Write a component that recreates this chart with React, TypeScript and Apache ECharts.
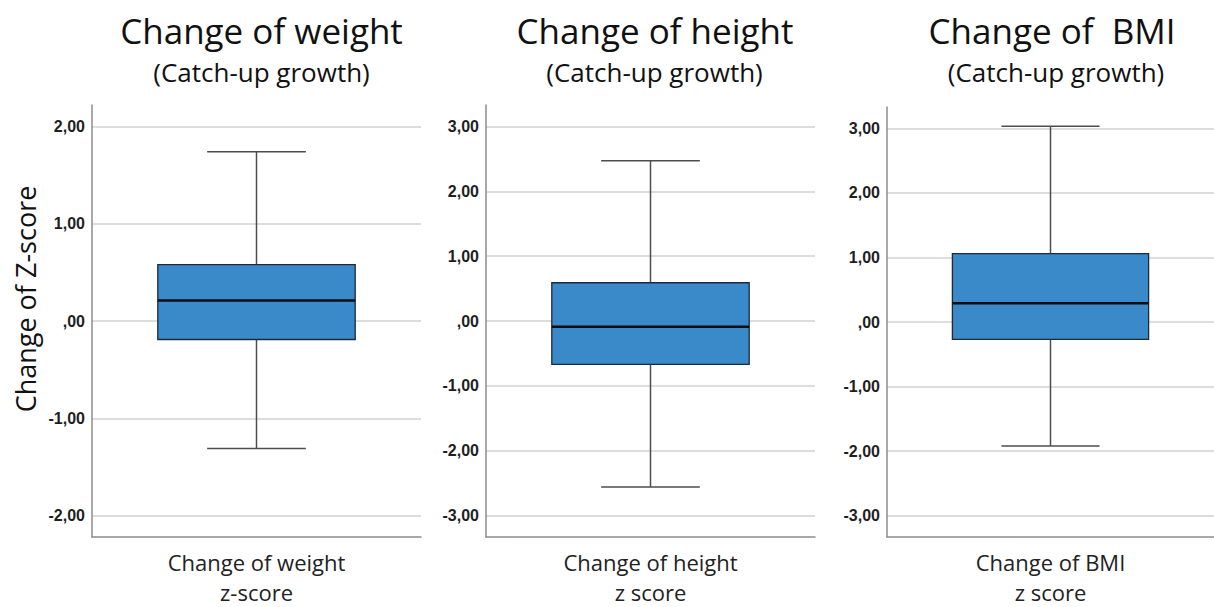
import React, { useEffect, useRef } from 'react';
import * as echarts from 'echarts';

// ---- Data ----
const panelTitles = ['Change of weight', 'Change of height', 'Change of  BMI'];
const panelSubtitle = '(Catch-up growth)';
const categories = ['Change of weight\nz-score', 'Change of height\nz score', 'Change of BMI\nz score'];
const yAxisTitle = 'Change of Z-score';
// [lower whisker, Q1, median, Q3, upper whisker]
const weightBox = [-1.31, -0.19, 0.21, 0.58, 1.74];
const heightBox = [-2.56, -0.67, -0.09, 0.59, 2.47];
const bmiBox = [-1.92, -0.27, 0.29, 1.06, 3.03];
const boxes = [weightBox, heightBox, bmiBox];
const yMins = [-2.22, -3.33, -3.33];
const yMaxs = [2.22, 3.33, 3.33];

// ---- Layout ----
const grids = [
  { left: 92, top: 105, width: 329, height: 437 },
  { left: 486, top: 105, width: 329, height: 437 },
  { left: 887, top: 107, width: 327, height: 438 },
];
const titleX = [261.5, 655, 1052];
const subX = [261.5, 654.5, 1056];

const SANS = '"Open Sans", "Noto Sans", sans-serif';
const ARIAL = '"Liberation Sans", Arial, sans-serif';

const fmt = (v: number) => {
  if (Math.abs(v - Math.round(v)) > 1e-6) return '';
  const r = Math.round(v);
  if (r === 0) return ',00';
  return r.toFixed(2).replace('.', ',');
};

const renderBox = (params: any, api: any) => {
  const x = api.value(0);
  const lo = api.coord([x, api.value(1)]);
  const q1 = api.coord([x, api.value(2)]);
  const med = api.coord([x, api.value(3)]);
  const q3 = api.coord([x, api.value(4)]);
  const hi = api.coord([x, api.value(5)]);
  const band = api.size([1, 0])[0];
  const bw = band * 0.6;
  const cw = bw / 2;
  const cx = lo[0];
  const wStyle = { stroke: '#4d4d4d', lineWidth: 1.5 };
  return {
    type: 'group',
    children: [
      { type: 'line', shape: { x1: cx, y1: hi[1], x2: cx, y2: q3[1] }, style: wStyle },
      { type: 'line', shape: { x1: cx, y1: q1[1], x2: cx, y2: lo[1] }, style: wStyle },
      { type: 'line', shape: { x1: cx - cw / 2, y1: hi[1], x2: cx + cw / 2, y2: hi[1] }, style: wStyle },
      { type: 'line', shape: { x1: cx - cw / 2, y1: lo[1], x2: cx + cw / 2, y2: lo[1] }, style: wStyle },
      {
        type: 'rect',
        shape: { x: cx - bw / 2, y: q3[1], width: bw, height: q1[1] - q3[1] },
        style: { fill: '#3a89c9', stroke: '#1c2a3c', lineWidth: 1.3 },
      },
      { type: 'line', shape: { x1: cx - bw / 2, y1: med[1], x2: cx + bw / 2, y2: med[1] }, style: { stroke: '#0d0d14', lineWidth: 2.5 } },
    ],
  };
};

export default function App() {
  const ref = useRef<HTMLDivElement>(null);
  useEffect(() => {
    const chart = echarts.init(ref.current!, undefined, { renderer: 'svg' });
    const option: any = {
      animation: false,
      backgroundColor: '#ffffff',
      grid: grids.map((g) => ({ ...g, containLabel: false })),
      xAxis: grids.map((_, i) => ({
        type: 'category',
        gridIndex: i,
        data: [categories[i]],
        axisTick: { show: false },
        axisLine: { show: true, onZero: false, lineStyle: { color: '#8c8c8c', width: 1.5 } },
        axisLabel: { fontFamily: SANS, fontSize: 22, color: '#222', lineHeight: 30, margin: 10 },
        splitLine: { show: false },
      })),
      yAxis: grids.map((_, i) => ({
        type: 'value',
        gridIndex: i,
        min: yMins[i],
        max: yMaxs[i],
        axisLine: { show: true, onZero: false, lineStyle: { color: '#8c8c8c', width: 1.5 } },
        axisTick: { show: false },
        axisLabel: {
          formatter: fmt,
          fontFamily: ARIAL,
          fontWeight: 'bold',
          fontSize: 16,
          color: '#1e1e1e',
          margin: 7,
          showMinLabel: false,
          showMaxLabel: false,
        },
        splitLine: { show: true, showMinLine: false, showMaxLine: false, lineStyle: { color: '#d2d2d2', width: 1.5 } },
      })),
      series: boxes.map((b, i) => ({
        type: 'custom',
        xAxisIndex: i,
        yAxisIndex: i,
        renderItem: renderBox,
        encode: { x: 0, y: [1, 2, 3, 4, 5] },
        data: [[0, ...b]],
        silent: true,
      })),
      graphic: [
        ...panelTitles.map((t, i) => ({
          type: 'text',
          x: titleX[i],
          y: 30,
          style: { text: t, fontFamily: SANS, fontSize: 35, fill: '#111', textAlign: 'center', textVerticalAlign: 'middle' },
        })),
        ...panelTitles.map((_, i) => ({
          type: 'text',
          x: subX[i],
          y: 72,
          style: { text: panelSubtitle, fontFamily: SANS, fontSize: 26, fill: '#111', textAlign: 'center', textVerticalAlign: 'middle' },
        })),
        {
          type: 'text',
          x: 25,
          y: 299,
          rotation: Math.PI / 2,
          style: { text: yAxisTitle, fontFamily: SANS, fontSize: 27, fill: '#111', textAlign: 'center', textVerticalAlign: 'middle' },
        },
      ],
    };
    chart.setOption(option);
    return () => chart.dispose();
  }, []);
  return (
    <div
      ref={ref}
      style={{ position: 'absolute', left: 0, top: 0, width: 1214, height: 607, background: '#fff' }}
    />
  );
}
